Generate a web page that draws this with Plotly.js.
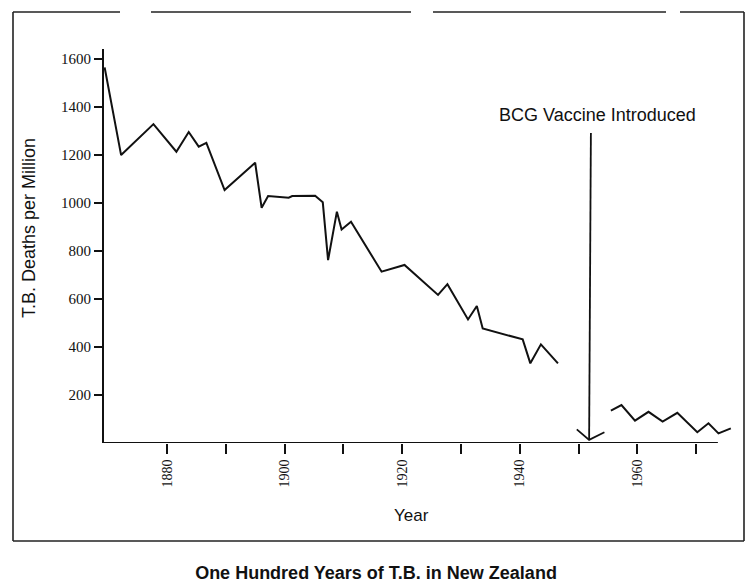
<!DOCTYPE html>
<html>
<head>
<meta charset="utf-8">
<script src="https://cdn.plot.ly/plotly-3.0.1.min.js"></script>
<style>html,body{margin:0;padding:0;background:#fff;}#chart{width:754px;height:584px;}</style>
</head>
<body>
<div id="chart"></div>
<script>
// Data (year, T.B. deaths per million); null marks the break in the record
const years = [1869.4, 1872.2, 1877.7, 1881.6, 1883.7, 1885.4, 1886.7, 1889.8, 1895.0, 1896.1,
  1897.2, 1900.7, 1901.3, 1905.2, 1906.5, 1907.4, 1908.9, 1909.7, 1911.3, 1916.1,
  1916.5, 1920.4, 1926.1, 1927.7, 1931.2, 1932.7, 1933.7, 1940.5, 1941.8, 1943.6,
  1946.5, null, 1955.5, 1957.3, 1959.6, 1961.9, 1964.3, 1966.8, 1970.2, 1972.1,
  1973.8, 1975.9];
const deaths = [1565, 1200, 1329, 1214, 1296, 1235, 1251, 1054, 1168, 980,
  1029, 1022, 1029, 1030, 1003, 762, 964, 890, 922, 735,
  714, 742, 617, 662, 515, 571, 477, 432, 332, 411,
  332, null, 135, 158, 93, 130, 89, 126, 45, 82,
  40, 61];
const yTickVals = [200, 400, 600, 800, 1000, 1200, 1400, 1600];
const xTickVals = [1880, 1890, 1900, 1910, 1920, 1930, 1940, 1950, 1960, 1970];
const xTickText = ['1880', '', '1900', '', '1920', '', '1940', '', '1960', ''];
const chartTitle = 'One Hundred Years of T.B. in New Zealand';
const xTitle = 'Year';
const yTitle = 'T.B. Deaths per Million';
const noteText = 'BCG Vaccine Introduced';
const bcgYear = 1952;

const X0 = 1869.29, X1 = 1976.1, XAXEND = 1973.7;
const pl = 104, pw = 628, pt = 49, ph = 394;
const px = v => (v - pl) / pw;
const py = v => (pt + ph - v) / ph;

const trace = {
  x: years, y: deaths, type: 'scatter', mode: 'lines',
  connectgaps: false,
  line: {color: '#111', width: 2},
  hoverinfo: 'skip', showlegend: false
};

const frame = {color: '#222', width: 1.6};
const sans = 'Liberation Sans, Arial, sans-serif';
const serif = 'Liberation Serif, Times New Roman, serif';
const layout = {
  width: 754, height: 584,
  margin: {l: pl, r: 754 - pl - pw, t: pt, b: 584 - pt - ph},
  paper_bgcolor: '#fff', plot_bgcolor: '#fff',
  showlegend: false,
  title: {
    text: '<b>' + chartTitle + '</b>',
    font: {family: sans, size: 18, color: '#111'},
    x: 376 / 754, xref: 'container', xanchor: 'center',
    y: (584 - 573) / 584, yref: 'container', yanchor: 'middle'
  },
  xaxis: {
    range: [X0, X1], showgrid: false, zeroline: false, showline: false,
    tickmode: 'array', tickvals: xTickVals, ticktext: xTickText,
    ticks: 'outside', ticklen: 10, tickwidth: 2, tickcolor: '#111',
    tickangle: -90,
    tickfont: {family: serif, size: 14, color: '#111'}
  },
  yaxis: {
    range: [0, 1642], showgrid: false, zeroline: false,
    showline: true, linecolor: '#111', linewidth: 2,
    tickmode: 'array', tickvals: yTickVals,
    ticks: 'outside', ticklen: 8, tickwidth: 2, tickcolor: '#111',
    tickfont: {family: serif, size: 15, color: '#111'}
  },
  shapes: [
    // x axis line
    {type: 'line', xref: 'x', yref: 'y', x0: X0, x1: XAXEND, y0: 0, y1: 0, line: {color: '#111', width: 2}},
    // arrow shaft and head
    {type: 'line', xref: 'x', yref: 'y', x0: bcgYear + 0.1, x1: bcgYear - 0.2, y0: 1292, y1: 13, line: {color: '#111', width: 1.8}},
    {type: 'path', xref: 'x', yref: 'y', path: 'M 1949.7,57 L 1951.8,13 L 1954.4,45', line: {color: '#111', width: 1.8}},
    // outer frame
    {type: 'line', xref: 'paper', yref: 'paper', x0: px(13), x1: px(13), y0: py(12), y1: py(541), line: frame},
    {type: 'line', xref: 'paper', yref: 'paper', x0: px(744), x1: px(744), y0: py(12), y1: py(541), line: frame},
    {type: 'line', xref: 'paper', yref: 'paper', x0: px(13), x1: px(744), y0: py(541), y1: py(541), line: frame},
    {type: 'line', xref: 'paper', yref: 'paper', x0: px(13), x1: px(120), y0: py(12), y1: py(12), line: frame},
    {type: 'line', xref: 'paper', yref: 'paper', x0: px(151), x1: px(411), y0: py(12), y1: py(12), line: frame},
    {type: 'line', xref: 'paper', yref: 'paper', x0: px(433), x1: px(666), y0: py(12), y1: py(12), line: frame},
    {type: 'line', xref: 'paper', yref: 'paper', x0: px(680), x1: px(744), y0: py(12), y1: py(12), line: frame}
  ],
  annotations: [
    {text: noteText, xref: 'paper', yref: 'paper', x: px(597), y: py(115), showarrow: false,
     xanchor: 'center', yanchor: 'middle',
     font: {family: sans, size: 18, color: '#111'}},
    {text: xTitle, xref: 'paper', yref: 'paper', x: px(411), y: py(515), showarrow: false,
     xanchor: 'center', yanchor: 'middle',
     font: {family: sans, size: 17, color: '#111'}},
    {text: yTitle, xref: 'paper', yref: 'paper', x: px(29), y: py(228), showarrow: false,
     textangle: -90, xanchor: 'center', yanchor: 'middle',
     font: {family: sans, size: 18, color: '#111'}}
  ]
};

Plotly.newPlot('chart', [trace], layout, {staticPlot: true, displayModeBar: false});
</script>
</body>
</html>
